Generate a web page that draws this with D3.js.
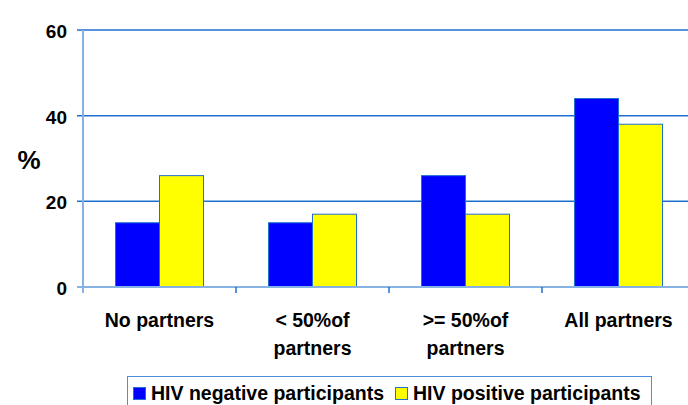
<!DOCTYPE html>
<html lang="en">
<head>
  <meta charset="UTF-8" />
  <title>Partners by HIV status</title>
  <script src="https://d3js.org/d3.v7.min.js"></script>
  <style>
    body { margin: 0; background: #fff; font-family: 'Liberation Sans', Arial, sans-serif; }
    svg { display: block; }
    text { font-weight: bold; fill: #000; }
  </style>
</head>
<body>
  <svg width="688" height="405"></svg>
  <script>
    const categories = [["No partners"], ["< 50%of", "partners"], [">= 50%of", "partners"], ["All partners"]];
    const series = ["HIV negative participants", "HIV positive participants"];
    const negative = [15, 15, 26, 44];
    const positive = [26, 17, 17, 38];
    const yTicks = [0, 20, 40, 60];
    const colors = ["#0000ff", "#ffff00"];

    const svg = d3.select("svg");
    const plotL = 83, plotR = 695, plotT = 30, plotB = 287;
    const gridColor = "#1f6fcf", axisColor = "#86b2e6";

    const catKeys = categories.map((d, i) => i);
    const x0 = d3.scaleBand().domain(catKeys).range([plotL, plotR]);
    const step = x0.bandwidth();
    const barW = 44;
    const x1 = d3.scaleBand().domain(series).range([step / 2 - barW, step / 2 + barW]);
    const y = d3.scaleLinear().domain([0, 60]).range([plotB, plotT]);

    // gridlines
    svg.append("g").selectAll("line")
      .data(yTicks.filter(t => t > 0))
      .join("line")
      .attr("x1", plotL - 6).attr("x2", 688)
      .attr("y1", d => y(d)).attr("y2", d => y(d))
      .attr("stroke", gridColor).attr("stroke-width", 1.5);

    // bars
    const rows = catKeys.map(i => ({ i, vals: [negative[i], positive[i]] }));
    const grp = svg.append("g").selectAll("g").data(rows).join("g")
      .attr("transform", d => `translate(${x0(d.i)},0)`);
    grp.selectAll("rect")
      .data(d => d.vals.map((v, k) => ({ s: series[k], v, k })))
      .join("rect")
      .attr("x", d => x1(d.s))
      .attr("width", x1.bandwidth())
      .attr("y", d => y(d.v))
      .attr("height", d => y(0) - y(d.v))
      .attr("fill", d => colors[d.k])
      .attr("stroke", gridColor).attr("stroke-width", 1);

    // axes
    svg.append("line").attr("x1", plotL).attr("x2", plotL)
      .attr("y1", plotT).attr("y2", plotB + 6)
      .attr("stroke", axisColor).attr("stroke-width", 2);
    svg.append("line").attr("x1", plotL - 6).attr("x2", 688)
      .attr("y1", plotB).attr("y2", plotB)
      .attr("stroke", axisColor).attr("stroke-width", 2);
    svg.append("g").selectAll("line")
      .data(catKeys.slice(1))
      .join("line")
      .attr("x1", d => x0(d)).attr("x2", d => x0(d))
      .attr("y1", plotB).attr("y2", plotB + 6)
      .attr("stroke", gridColor).attr("stroke-width", 1.5);

    // y tick labels
    svg.append("g").selectAll("text")
      .data(yTicks)
      .join("text")
      .attr("x", 67).attr("y", d => y(d) + 8)
      .attr("text-anchor", "end")
      .style("font-size", "19px")
      .text(d => d);

    svg.append("text").attr("x", 29).attr("y", 169)
      .attr("text-anchor", "middle")
      .style("font-size", "26px").text("%");

    // category labels
    const lbl = svg.append("g").selectAll("text").data(rows).join("text")
      .attr("text-anchor", "middle")
      .style("font-size", "19.5px");
    lbl.selectAll("tspan")
      .data(d => categories[d.i].map(t => ({ t, cx: x0(d.i) + step / 2 })))
      .join("tspan")
      .attr("x", d => d.cx)
      .attr("y", (d, j) => 327 + j * 28)
      .text(d => d.t);

    // legend
    const lg = svg.append("g");
    lg.append("rect").attr("x", 127.5).attr("y", 376.5)
      .attr("width", 524).attr("height", 40)
      .attr("fill", "#fff").attr("stroke", "#4a8fdc").attr("stroke-width", 1);
    const legendX = [133, 395];
    series.forEach((s, k) => {
      lg.append("rect").attr("x", legendX[k] + 0.5).attr("y", 387.5)
        .attr("width", 12).attr("height", 12)
        .attr("fill", colors[k]).attr("stroke", gridColor).attr("stroke-width", 1);
      lg.append("text").attr("x", legendX[k] + 18).attr("y", 400)
        .style("font-size", "19.5px").text(s);
    });
  </script>
</body>
</html>
